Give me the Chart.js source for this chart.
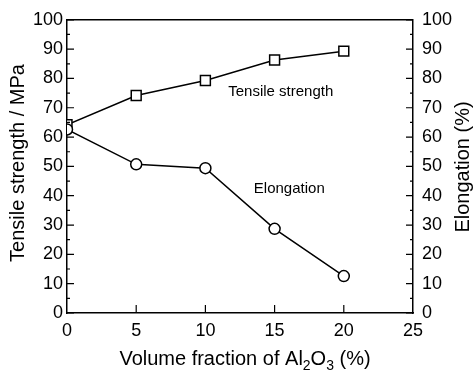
<!DOCTYPE html>
<html>
<head>
<meta charset="utf-8">
<script src="https://cdn.jsdelivr.net/npm/chart.js@4"></script>
<style>
  body { margin: 0; background: #fff; }
  #wrap { width: 474px; height: 373px; }
</style>
</head>
<body>
<div id="wrap"><canvas id="tensileChart" width="474" height="373"></canvas></div>
<script>
// ============================
// DATA
// ============================
const volumeFraction = [0, 5, 10, 15, 20];
const tensileStrength = [64.2, 74.2, 79.3, 86.3, 89.3];
const elongation = [62.6, 50.7, 49.4, 28.7, 12.6];

const seriesNames = ["Tensile strength", "Elongation"];
const xRange = [0, 25];
const yRange = [0, 100];

const FONT = '"Liberation Sans", Arial, Helvetica, sans-serif';

function toPoints(ys) {
  return volumeFraction.map((x, i) => ({ x: x, y: ys[i] }));
}

// ============================
// PLUGIN: inward ticks, frame, titles, labels
// ============================
const framePlugin = {
  id: "frame",
  afterDraw(chart) {
    const ctx = chart.ctx;
    const area = chart.chartArea;
    const xs = chart.scales.x;
    const yl = chart.scales.y;
    const yr = chart.scales.y2;

    ctx.save();
    ctx.strokeStyle = "#000";
    ctx.lineWidth = 1.5;

    // top border
    ctx.beginPath();
    ctx.moveTo(area.left, area.top);
    ctx.lineTo(area.right, area.top);
    ctx.stroke();

    // inward y ticks, major every 10, minor every 5
    ctx.lineWidth = 1.2;
    for (let v = yRange[0]; v <= yRange[1]; v += 5) {
      const len = v % 10 === 0 ? 7 : 3;
      const py = yl.getPixelForValue(v);
      const pr = yr.getPixelForValue(v);
      ctx.beginPath();
      ctx.moveTo(area.left, py);
      ctx.lineTo(area.left + len, py);
      ctx.moveTo(area.right, pr);
      ctx.lineTo(area.right - len, pr);
      ctx.stroke();
    }

    // inward x ticks
    for (let v = xRange[0] + 5; v < xRange[1]; v += 5) {
      const px = xs.getPixelForValue(v);
      ctx.beginPath();
      ctx.moveTo(px, area.bottom);
      ctx.lineTo(px, area.bottom - 8);
      ctx.stroke();
    }

    ctx.fillStyle = "#000";

    // left axis title
    ctx.font = "20px " + FONT;
    ctx.textAlign = "center";
    ctx.textBaseline = "middle";
    ctx.save();
    ctx.translate(18, 163);
    ctx.rotate(-Math.PI / 2);
    ctx.fillText("Tensile strength / MPa", 0, 0);
    ctx.restore();

    // right axis title
    ctx.save();
    ctx.translate(463, 167);
    ctx.rotate(-Math.PI / 2);
    ctx.fillText("Elongation (%)", 0, 0);
    ctx.restore();

    // x axis title with subscripts
    const parts = [
      { t: "Volume fraction of Al", sub: false },
      { t: "2", sub: true },
      { t: "O", sub: false },
      { t: "3", sub: true },
      { t: " (%)", sub: false },
    ];
    const mainFont = "20px " + FONT;
    const subFont = "14px " + FONT;
    let total = 0;
    parts.forEach((p) => {
      ctx.font = p.sub ? subFont : mainFont;
      p.w = ctx.measureText(p.t).width;
      total += p.w;
    });
    let cx = 245 - total / 2;
    ctx.textAlign = "left";
    ctx.textBaseline = "alphabetic";
    parts.forEach((p) => {
      ctx.font = p.sub ? subFont : mainFont;
      ctx.fillText(p.t, cx, p.sub ? 370 : 365);
      cx += p.w;
    });

    // series labels
    ctx.font = "15px " + FONT;
    ctx.textBaseline = "middle";
    ctx.fillText(seriesNames[0], xs.getPixelForValue(11.65), yl.getPixelForValue(75.5));
    ctx.fillText(seriesNames[1], xs.getPixelForValue(13.5), yl.getPixelForValue(42.3));

    ctx.restore();
  },
};

// ============================
// CHART
// ============================
const tickFont = { family: FONT, size: 18 };
const axisBorder = { display: true, color: "#000", width: 1.5 };

new Chart(document.getElementById("tensileChart"), {
  type: "line",
  data: {
    datasets: [
      {
        label: seriesNames[1],
        data: toPoints(elongation),
        yAxisID: "y2",
        borderColor: "#000",
        borderWidth: 1.5,
        pointStyle: "circle",
        pointRadius: 5.5,
        pointBorderWidth: 1.5,
        pointBorderColor: "#000",
        pointBackgroundColor: "#fff",
        tension: 0,
        order: 0,
      },
      {
        label: seriesNames[0],
        data: toPoints(tensileStrength),
        yAxisID: "y",
        borderColor: "#000",
        borderWidth: 1.5,
        pointStyle: "rect",
        pointRadius: 7,
        pointBorderWidth: 1.5,
        pointBorderColor: "#000",
        pointBackgroundColor: "#fff",
        tension: 0,
        order: 1,
      },
    ],
  },
  options: {
    responsive: false,
    animation: false,
    layout: { padding: { top: 16, left: 0, right: 0, bottom: 0 } },
    plugins: {
      legend: { display: false },
      tooltip: { enabled: false },
    },
    scales: {
      x: {
        type: "linear",
        min: xRange[0],
        max: xRange[1],
        ticks: { stepSize: 5, color: "#000", font: tickFont, padding: 7, maxRotation: 0 },
        grid: { drawOnChartArea: false, drawTicks: false },
        border: axisBorder,
        afterFit(scale) { scale.height = 60; },
      },
      y: {
        position: "left",
        min: yRange[0],
        max: yRange[1],
        ticks: { stepSize: 10, color: "#000", font: tickFont, padding: 4 },
        grid: { drawOnChartArea: false, drawTicks: false },
        border: axisBorder,
        afterFit(scale) { scale.width = 67; },
      },
      y2: {
        position: "right",
        min: yRange[0],
        max: yRange[1],
        ticks: { stepSize: 10, color: "#000", font: tickFont, padding: 9 },
        grid: { drawOnChartArea: false, drawTicks: false },
        border: axisBorder,
        afterFit(scale) { scale.width = 61; },
      },
    },
  },
  plugins: [framePlugin],
});
</script>
</body>
</html>
